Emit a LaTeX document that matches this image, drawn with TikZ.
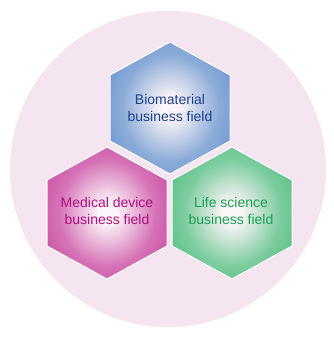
\documentclass[tikz,border=0pt]{standalone}
\usepackage{fontspec}
\setmainfont{Liberation Sans}
\usepackage{tikz}
\usetikzlibrary{positioning}
\usepackage{xcolor}
\definecolor{circlepink}{HTML}{F4E5F0}
\definecolor{glowwhite}{HTML}{FBF4F8}
\definecolor{bioblue}{HTML}{5C8DCA}
\definecolor{biotext}{HTML}{1C418F}
\definecolor{medmagenta}{HTML}{C53C9B}
\definecolor{medtext}{HTML}{AF107E}
\definecolor{lifegreen}{HTML}{46BB78}
\definecolor{lifetext}{HTML}{18A052}

\pgfdeclareradialshading{bioglow}{\pgfpoint{0bp}{0bp}}{color(0bp)=(glowwhite); color(4bp)=(glowwhite); color(20bp)=(bioblue!70!glowwhite); color(36bp)=(bioblue); color(80bp)=(bioblue)}
\pgfdeclareradialshading{medglow}{\pgfpoint{0bp}{0bp}}{color(0bp)=(glowwhite); color(4bp)=(glowwhite); color(20bp)=(medmagenta!70!glowwhite); color(36bp)=(medmagenta); color(80bp)=(medmagenta)}
\pgfdeclareradialshading{lifeglow}{\pgfpoint{0bp}{0bp}}{color(0bp)=(glowwhite); color(4bp)=(glowwhite); color(20bp)=(lifegreen!70!glowwhite); color(36bp)=(lifegreen); color(80bp)=(lifegreen)}

\tikzset{
  hexfield/.style={draw=white,line width=1pt},
  fieldtext/.style={align=center,inner sep=0pt,font=\fontsize{14}{16.5}\selectfont}
}

\begin{document}
\begin{tikzpicture}[x=1pt,y=-1pt]
  \useasboundingbox (0,0) rectangle (333,337);
  % background disc
  \fill[circlepink] (168,169) circle (158);
  % the three fields
  \shade[hexfield,shading=bioglow] (170,108) ++(0,-66) -- ++(60,33) -- ++(0,66) -- ++(-60,33) -- ++(-60,-33) -- ++(0,-66) -- cycle;
  \shade[hexfield,shading=medglow] (107,213) ++(0,-66) -- ++(60,33) -- ++(0,66) -- ++(-60,33) -- ++(-60,-33) -- ++(0,-66) -- cycle;
  \shade[hexfield,shading=lifeglow] (232,213) ++(0,-66) -- ++(60,33) -- ++(0,66) -- ++(-60,33) -- ++(-60,-33) -- ++(0,-66) -- cycle;
  \node[fieldtext,text=biotext] (bio) at (170,108) {Biomaterial\\business field};
  \node[fieldtext,text=medtext] (med) at (107,211) {Medical device\\business field};
  \node[fieldtext,text=lifetext] (life) at (231,211) {Life science\\business field};
\end{tikzpicture}
\end{document}
